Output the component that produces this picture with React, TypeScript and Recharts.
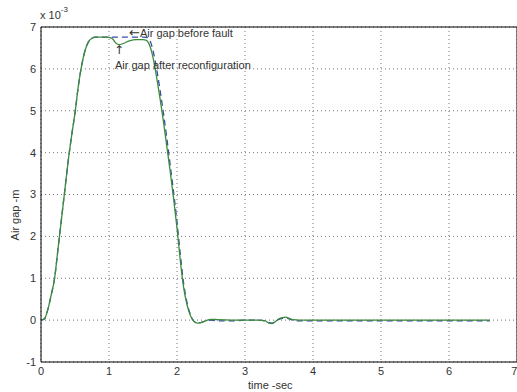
import { CartesianGrid, Line, LineChart, ReferenceLine, XAxis, YAxis } from "recharts";

// time in seconds, air gap in units of 1e-3 m
const time = [
  0, 0.05, 0.1, 0.15, 0.2, 0.25, 0.3, 0.35, 0.4, 0.45, 0.5, 0.55, 0.6, 0.65, 0.7, 0.75, 0.8, 0.9, 1.0,
  1.05, 1.1, 1.15, 1.2, 1.3, 1.4, 1.5, 1.55, 1.6, 1.65, 1.7, 1.75, 1.8, 1.85, 1.9, 1.95, 2.0, 2.05,
  2.1, 2.15, 2.2, 2.25, 2.3, 2.35, 2.4, 2.5, 2.6, 2.8, 3.0, 3.2, 3.3, 3.35, 3.4, 3.45, 3.5, 3.55,
  3.6, 3.65, 3.7, 3.8, 4.0, 4.2, 4.4, 5.0, 5.5, 6.0, 6.3, 6.6,
];

const afterReconfig = [
  0, 0.03, 0.25, 0.6, 1.0, 1.7, 2.4, 3.1, 3.8, 4.4, 4.95, 5.6, 6.1, 6.45, 6.65, 6.73, 6.76, 6.76, 6.75,
  6.72, 6.62, 6.58, 6.6, 6.67, 6.7, 6.7, 6.68, 6.55, 6.25, 5.8, 5.3, 4.75, 4.15, 3.55, 2.9, 2.2, 1.4,
  0.75, 0.35, 0.1, -0.03, -0.07, -0.06, -0.03, 0.02, 0.01, 0, 0, 0, -0.02, -0.07, -0.08, -0.03, 0.03, 0.06,
  0.07, 0.04, 0.01, 0, 0, 0, 0, 0, 0, 0, 0, 0,
];

const beforeFault = [
  0, 0.03, 0.25, 0.6, 1.0, 1.7, 2.4, 3.1, 3.8, 4.4, 4.95, 5.6, 6.1, 6.45, 6.65, 6.73, 6.76, 6.76, 6.76,
  6.76, 6.76, 6.76, 6.76, 6.76, 6.76, 6.76, 6.75, 6.68, 6.42, 6.0, 5.5, 4.95, 4.35, 3.7, 3.05, 2.35, 1.55,
  0.85, 0.4, 0.12, -0.03, -0.07, -0.06, -0.03, 0, -0.02, -0.02, 0, 0, -0.02, -0.06, -0.07, -0.02, 0.02, 0.04,
  0.05, 0.03, 0, -0.02, -0.02, -0.02, -0.02, -0.02, -0.02, -0.02, -0.02, -0.02,
];

const xTicks = [0, 1, 2, 3, 4, 5, 6, 7];
const yTicks = [-1, 0, 1, 2, 3, 4, 5, 6, 7];

const data = time.map((t, i) => ({ t, after: afterReconfig[i], before: beforeFault[i] }));

const FONT = "'Liberation Sans', Arial, sans-serif";
const ARROW_FONT = "'DejaVu Sans', sans-serif";
const TICK = { fill: "#333", fontSize: 11, fontFamily: FONT };
const txt = { position: "absolute" as const, fontFamily: FONT, fontSize: 11, color: "#333", whiteSpace: "nowrap" as const, lineHeight: "12px" };

export default function App() {
  return (
    <div style={{ position: "absolute", left: 0, top: 0, width: 517, height: 392, background: "#fff" }}>
      <LineChart width={517} height={392} data={data} margin={{ top: 27, right: 0, bottom: 0, left: 0 }}>
        <CartesianGrid stroke="#777" strokeDasharray="1 3" horizontalValues={yTicks} verticalValues={xTicks} />
        <XAxis
          dataKey="t"
          type="number"
          domain={[0, 7]}
          ticks={xTicks}
          allowDataOverflow
          height={30}
          tick={TICK}
          tickSize={3}
          tickMargin={2}
          tickLine={false}
          axisLine={{ stroke: "#000" }}
        />
        <YAxis
          type="number"
          domain={[-1, 7]}
          ticks={yTicks}
          width={41}
          tick={TICK}
          tickSize={3}
          tickMargin={2}
          tickLine={false}
          axisLine={{ stroke: "#000" }}
        />
        <ReferenceLine y={7} stroke="#000" />
        <ReferenceLine x={7} stroke="#000" />
        <Line
          dataKey="before"
          type="monotone"
          stroke="#3a4aa8"
          strokeWidth={1.3}
          strokeDasharray="6 4"
          dot={false}
          isAnimationActive={false}
        />
        <Line dataKey="after" type="monotone" stroke="#3c8a3c" strokeWidth={1.3} dot={false} isAnimationActive={false} />
      </LineChart>

      <div style={{ ...txt, left: 40, top: 9 }}>
        x 10<sup style={{ fontSize: 8, verticalAlign: "top", position: "relative", top: -5 }}>-3</sup>
      </div>
      <div style={{ ...txt, left: 129, top: 27 }}>
        <span style={{ fontFamily: ARROW_FONT, fontSize: 13 }}>←</span>Air gap before fault
      </div>
      <div style={{ ...txt, fontFamily: ARROW_FONT, fontSize: 12, left: 114, top: 44 }}>↑</div>
      <div style={{ ...txt, left: 115, top: 59 }}>Air gap after reconfiguration</div>
      <div style={{ ...txt, left: 248, top: 379 }}>time -sec</div>
      <div
        style={{
          ...txt,
          left: 15,
          top: 215,
          transform: "translate(-50%, -50%) rotate(-90deg)",
        }}
      >
        Air gap -m
      </div>
    </div>
  );
}
